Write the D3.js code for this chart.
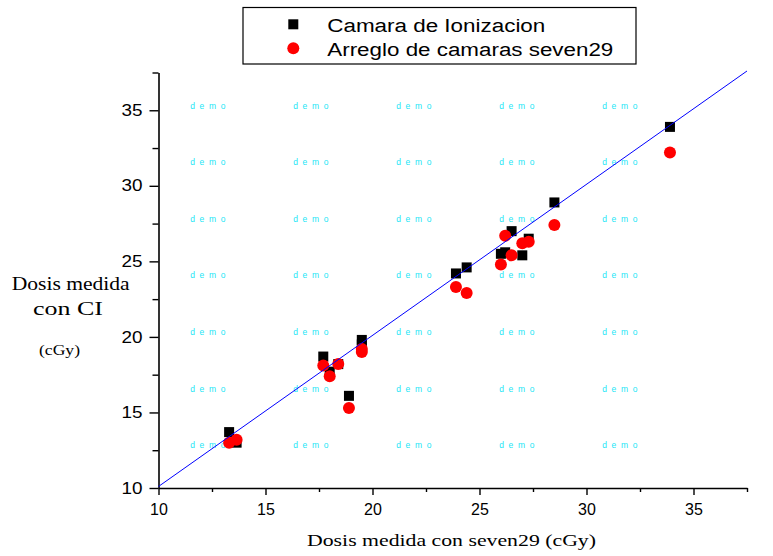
<!DOCTYPE html>
<html>
<head>
<meta charset="utf-8">
<script src="https://cdn.jsdelivr.net/npm/d3@7/dist/d3.min.js"></script>
<style>
  html, body { margin: 0; padding: 0; background: #fff; }
  svg { display: block; }
</style>
</head>
<body>
<svg id="chart" width="773" height="556"></svg>
<script>
// ---- Data ----
const doseSeven29 = [13.3, 13.65, 17.7, 18.0, 18.4, 18.9, 19.5, 19.5, 23.9, 24.4, 26.0, 26.2, 26.5, 27.0, 27.3, 28.5, 33.9];
const camaraIonizacion = [13.7, 13.0, 18.7, 17.7, 18.2, 16.1, 19.8, 19.5, 24.2, 24.6, 25.5, 25.6, 27.0, 25.4, 26.5, 28.9, 33.9];
const arregloSeven29 = [13.0, 13.2, 18.1, 17.4, 18.2, 15.3, 19.0, 19.2, 23.3, 22.9, 24.8, 26.7, 25.4, 26.2, 26.3, 27.4, 32.2];
const seriesNames = ["Camara de Ionizacion", "Arreglo de camaras seven29"];
const majorTicks = [10, 15, 20, 25, 30, 35];
const minorTicks = [12.5, 17.5, 22.5, 27.5, 32.5, 37.5];
const axisDomain = [10, 37.5];
const fitLine = [[10, 10.1], [37.5, 37.6]];
const xTitle = "Dosis medida con seven29 (cGy)";
const yTitleLines = ["Dosis medida", "con CI", "(cGy)"];
const watermark = "demo";

// ---- Layout ----
const svg = d3.select("#chart");
const x = d3.scaleLinear().domain(axisDomain).range([158.5, 747]);
const y = d3.scaleLinear().domain(axisDomain).range([488, 72.5]);

// watermark grid
const wm = svg.append("g").attr("fill", "#22e6f6")
  .attr("font-family", "Liberation Sans, Arial, sans-serif")
  .attr("font-size", 8.5).style("letter-spacing", "4.6px");
for (let c = 0; c < 5; c++) {
  for (let r = 0; r < 7; r++) {
    wm.append("text").attr("x", 190.3 + c * 103).attr("y", 108.5 + r * 56.6).text(watermark);
  }
}

// axes
const tickFont = "Liberation Sans, Arial, sans-serif";
const xAxis = svg.append("g").attr("transform", "translate(0,488)")
  .call(d3.axisBottom(x).tickValues(majorTicks).tickSize(7).tickSizeOuter(0).tickPadding(9).tickFormat(d3.format("d")));
svg.append("g").attr("transform", "translate(0,488)")
  .call(d3.axisBottom(x).tickValues(minorTicks).tickSize(4).tickSizeOuter(0).tickFormat(""))
  .select(".domain").remove();
const yAxis = svg.append("g").attr("transform", "translate(158.5,0)")
  .call(d3.axisLeft(y).tickValues(majorTicks).tickSize(9).tickSizeOuter(0).tickPadding(7).tickFormat(d3.format("d")));
svg.append("g").attr("transform", "translate(158.5,0)")
  .call(d3.axisLeft(y).tickValues(minorTicks).tickSize(6).tickSizeOuter(0).tickFormat(""))
  .select(".domain").remove();

svg.selectAll(".domain").attr("stroke", "#000").attr("stroke-width", 1.6);
svg.selectAll(".tick line").attr("stroke", "#000").attr("stroke-width", 1.4);
xAxis.attr("font-size", 16).selectAll("text").attr("font-family", tickFont).attr("font-size", 16).attr("fill", "#000");
yAxis.attr("font-size", 16).selectAll("text").attr("font-family", tickFont).attr("font-size", 16).attr("fill", "#000")
  .attr("textLength", 21).attr("lengthAdjust", "spacingAndGlyphs");

// data marks
const pts = doseSeven29.map((d, i) => ({ x: d, ci: camaraIonizacion[i], s29: arregloSeven29[i] }));
svg.append("g").selectAll("rect").data(pts).join("rect")
  .attr("x", d => x(d.x) - 5).attr("y", d => y(d.ci) - 5)
  .attr("width", 10).attr("height", 10).attr("fill", "#000");
svg.append("g").selectAll("circle").data(pts).join("circle")
  .attr("cx", d => x(d.x)).attr("cy", d => y(d.s29))
  .attr("r", 6).attr("fill", "#ff0000");

// fit line
svg.append("path")
  .attr("d", d3.line().x(d => x(d[0])).y(d => y(d[1]))(fitLine))
  .attr("fill", "none").attr("stroke", "#0000ff").attr("stroke-width", 1);

// titles
const serif = "Garamond, 'Liberation Serif', 'Times New Roman', serif";
svg.append("text").attr("x", 307).attr("y", 546).attr("font-family", serif).attr("font-size", 17)
  .attr("textLength", 289).attr("lengthAdjust", "spacingAndGlyphs").attr("fill", "#000").text(xTitle);
const yl = [
  { x: 11.7, y: 290, len: 118, fs: 18 },
  { x: 33, y: 315, len: 70, fs: 18 },
  { x: 39, y: 355, len: 41, fs: 14 }
];
yTitleLines.forEach((t, i) => {
  svg.append("text").attr("x", yl[i].x).attr("y", yl[i].y).attr("font-family", serif)
    .attr("font-size", yl[i].fs).attr("textLength", yl[i].len).attr("lengthAdjust", "spacingAndGlyphs")
    .attr("fill", "#000").text(t);
});

// legend
const lg = svg.append("g");
lg.append("rect").attr("x", 243).attr("y", 7.5).attr("width", 393).attr("height", 56.5)
  .attr("fill", "#fff").attr("stroke", "#000").attr("stroke-width", 1.2);
lg.append("rect").attr("x", 288.3).attr("y", 19.3).attr("width", 10).attr("height", 10).attr("fill", "#000");
lg.append("circle").attr("cx", 293.3).attr("cy", 48.3).attr("r", 6).attr("fill", "#ff0000");
lg.append("text").attr("x", 327.3).attr("y", 31.5).attr("font-family", tickFont).attr("font-size", 18)
  .attr("textLength", 218).attr("lengthAdjust", "spacingAndGlyphs").text(seriesNames[0]);
lg.append("text").attr("x", 327.3).attr("y", 55.5).attr("font-family", tickFont).attr("font-size", 18)
  .attr("textLength", 286).attr("lengthAdjust", "spacingAndGlyphs").text(seriesNames[1]);
</script>
</body>
</html>
